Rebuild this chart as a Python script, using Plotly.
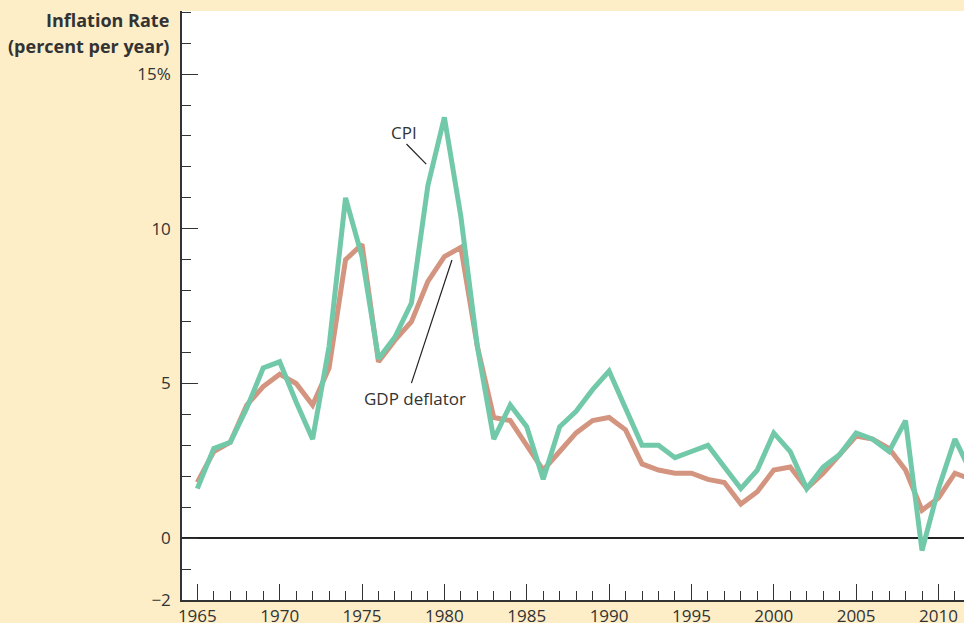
import plotly.graph_objects as go

# Annual inflation rates, percent per year
years = list(range(1965, 2013))
cpi = [1.6, 2.9, 3.1, 4.2, 5.5, 5.7, 4.4, 3.2, 6.2, 11.0,
       9.1, 5.8, 6.5, 7.6, 11.4, 13.6, 10.4, 6.2, 3.2, 4.3,
       3.6, 1.9, 3.6, 4.1, 4.8, 5.4, 4.2, 3.0, 3.0, 2.6,
       2.8, 3.0, 2.3, 1.6, 2.2, 3.4, 2.8, 1.6, 2.3, 2.7,
       3.4, 3.2, 2.8, 3.8, -0.4, 1.6, 3.2, 2.1]
gdp_deflator = [1.8, 2.8, 3.1, 4.3, 4.9, 5.3, 5.0, 4.3, 5.5, 9.0,
                9.5, 5.7, 6.4, 7.0, 8.3, 9.1, 9.4, 6.2, 3.9, 3.8,
                3.0, 2.2, 2.8, 3.4, 3.8, 3.9, 3.5, 2.4, 2.2, 2.1,
                2.1, 1.9, 1.8, 1.1, 1.5, 2.2, 2.3, 1.6, 2.1, 2.7,
                3.3, 3.2, 2.9, 2.2, 0.9, 1.3, 2.1, 1.9]

y_tickvals = [-2, 0, 5, 10, 15]
y_ticktext = ["\u22122", "0", "5", "10", "15%"]

BEIGE = "#FDEEC8"
GREEN = "#72C9A9"
SALMON = "#D39580"
INK = "#333333"
FONT = "Open Sans"

fig = go.Figure()
fig.add_trace(go.Scatter(x=years, y=gdp_deflator, mode="lines",
                         line=dict(color=SALMON, width=5), name="GDP deflator"))
fig.add_trace(go.Scatter(x=years, y=cpi, mode="lines",
                         line=dict(color=GREEN, width=5), name="CPI"))

# Labels with leader lines
fig.add_annotation(x=1977.55, y=13.1, text="CPI", showarrow=False,
                   font=dict(family=FONT, size=17, color=INK))
fig.add_shape(type="line", x0=1977.7, y0=12.74, x1=1978.9, y1=12.09,
              line=dict(color="#222", width=1.2))
fig.add_annotation(x=1978.2, y=4.5, text="GDP deflator", showarrow=False,
                   font=dict(family=FONT, size=17, color=INK))
fig.add_shape(type="line", x0=1978.0, y0=5.01, x1=1980.46, y1=8.99,
              line=dict(color="#222", width=1.2))

# Axis title in the beige margin
fig.add_annotation(xref="paper", x=0, xanchor="right", xshift=-11,
                   yref="y", y=16.75, text="<b>Inflation Rate</b>", showarrow=False,
                   font=dict(family=FONT, size=18, color=INK))
fig.add_annotation(xref="paper", x=0, xanchor="right", xshift=-11,
                   yref="y", y=15.9, text="<b>(percent per year)</b>", showarrow=False,
                   font=dict(family=FONT, size=18, color=INK))

fig.update_xaxes(
    range=[1964.07, 2011.55],
    tick0=1965, dtick=5,
    ticks="inside", ticklen=16, tickwidth=1.3, tickcolor=INK,
    minor=dict(ticks="inside", ticklen=9, dtick=1, tickwidth=1.3, tickcolor=INK),
    showline=True, linecolor=INK, linewidth=1.5,
    showgrid=False, zeroline=False,
    tickfont=dict(family=FONT, size=17, color=INK),
    ticklabelstandoff=0,
    automargin=False,
)
fig.update_yaxes(
    range=[-2, 17.04],
    tickvals=y_tickvals, ticktext=y_ticktext,
    ticks="inside", ticklen=16, tickwidth=1.3, tickcolor=INK,
    minor=dict(ticks="inside", ticklen=9, tickvals=list(range(-1, 18)),
               tickwidth=1.3, tickcolor=INK),
    showline=True, linecolor=INK, linewidth=1.5,
    showgrid=False, zeroline=True, zerolinecolor="#222", zerolinewidth=1.5,
    tickfont=dict(family=FONT, size=17, color=INK),
    ticklabelstandoff=6,
    automargin=False,
)

fig.update_layout(
    width=964, height=623,
    margin=dict(l=182, r=0, t=11, b=23),
    paper_bgcolor=BEIGE, plot_bgcolor="white",
    showlegend=False,
)

fig.write_html("out.html", config={"displayModeBar": False},
               post_script="document.body.style.margin='0';")
